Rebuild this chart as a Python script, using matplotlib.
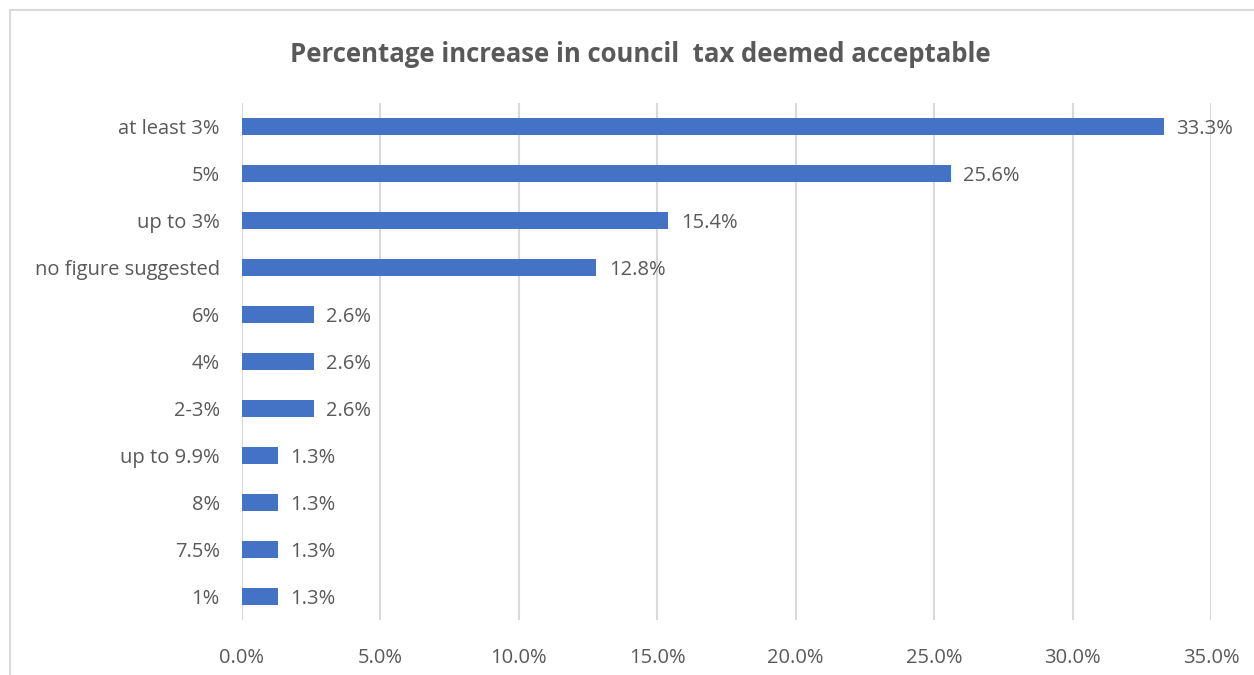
import matplotlib
matplotlib.use("Agg")
import matplotlib.pyplot as plt
from matplotlib.lines import Line2D
from matplotlib.ticker import FuncFormatter, MultipleLocator

# Survey responses: acceptable council tax increase
categories = ["at least 3%", "5%", "up to 3%", "no figure suggested", "6%", "4%",
              "2-3%", "up to 9.9%", "8%", "7.5%", "1%"]
values = [33.3, 25.6, 15.4, 12.8, 2.6, 2.6, 2.6, 1.3, 1.3, 1.3, 1.3]
value_labels = ["33.3%", "25.6%", "15.4%", "12.8%", "2.6%", "2.6%", "2.6%",
                "1.3%", "1.3%", "1.3%", "1.3%"]
title = "Percentage increase in council  tax deemed acceptable"

plt.rcParams["font.family"] = ["Open Sans", "DejaVu Sans"]
text_color = "#595959"
bar_color = "#4472C4"
grid_color = "#D9D9D9"
fs = 14.5

W, H = 1254, 675
fig = plt.figure(figsize=(W / 100, H / 100), dpi=100)
ax = fig.add_axes([242 / W, 1 - 620 / H, (1211 - 242) / W, (620 - 103) / H])

y = list(range(len(categories)))
ax.barh(y, values, height=0.36, color=bar_color, zorder=3)
for yi, v, lab in zip(y, values, value_labels):
    ax.text(v + 0.45, yi, lab, va="center_baseline", ha="left", fontsize=fs,
            color=text_color, zorder=4)

ax.set_ylim(len(categories) - 0.5, -0.5)
ax.set_xlim(0, 35)
ax.xaxis.set_major_locator(MultipleLocator(5))
ax.xaxis.set_major_formatter(FuncFormatter(lambda x, _: f"{x:.1f}%"))
ax.set_yticks(y)
ax.set_yticklabels(categories, va="center_baseline")
ax.tick_params(axis="both", length=0, labelsize=fs, labelcolor=text_color)
ax.tick_params(axis="x", pad=20)
ax.tick_params(axis="y", pad=16)
ax.grid(axis="x", color=grid_color, linewidth=1.5, zorder=0)
for s in ax.spines.values():
    s.set_visible(False)

fig.text(640 / W, 1 - 52 / H, title, ha="center", va="center_baseline", fontsize=18.5,
         fontweight="bold", color=text_color)

# Outer chart frame (left and top edges)
fig.add_artist(Line2D([9.5 / W, 9.5 / W], [0, 1 - 10 / H], transform=fig.transFigure,
                      color=grid_color, linewidth=1.5))
fig.add_artist(Line2D([9.5 / W, 1], [1 - 10 / H, 1 - 10 / H], transform=fig.transFigure,
                      color=grid_color, linewidth=1.5))

fig.savefig("out.png", dpi=100)
